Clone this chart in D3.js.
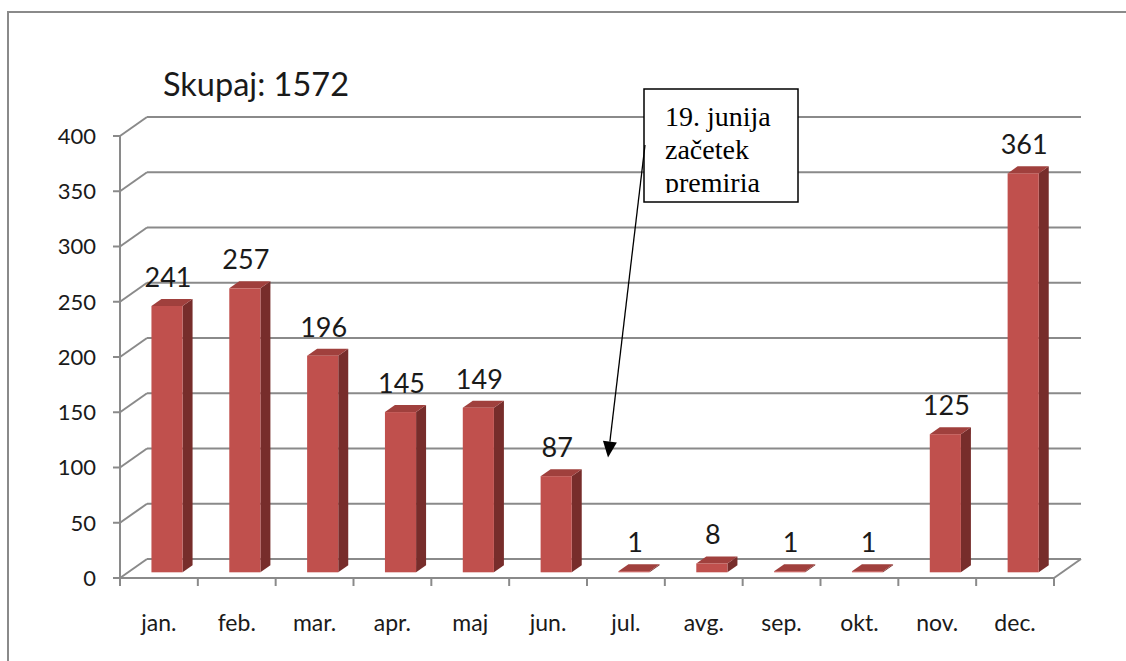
<!DOCTYPE html>
<html>
<head>
<meta charset="utf-8">
<script src="https://cdn.jsdelivr.net/npm/d3@7"></script>
<style>
  html, body { margin: 0; padding: 0; background: #fff; }
  svg { display: block; }
</style>
</head>
<body>
<div id="chart"></div>
<script>
// data
const months = ["jan.", "feb.", "mar.", "apr.", "maj", "jun.", "jul.", "avg.", "sep.", "okt.", "nov.", "dec."];
const counts = [241, 257, 196, 145, 149, 87, 1, 8, 1, 1, 125, 361];
const yTicks = [0, 50, 100, 150, 200, 250, 300, 350, 400];
const title = "Skupaj: 1572";
const noteLines = ["19. junija", "začetek", "premiria"];

const W = 1126, H = 661;
const depthX = 27, depthY = 19;   // 3d offset of the back wall
const barZ0 = 0.3, barZ1 = 0.67;  // bar depth on the floor

const svg = d3.select("#chart").append("svg")
  .attr("width", W)
  .attr("height", H);

// outer frame
svg.append("rect")
  .attr("x", 8).attr("y", 12)
  .attr("width", W + 20).attr("height", H + 20)
  .attr("fill", "none")
  .attr("stroke", "#8a8a8a")
  .attr("stroke-width", 2);

const x = d3.scaleLinear().domain([0, months.length]).range([120, 1054]);
const y = d3.scaleLinear().domain([0, 400]).range([578, 136]);

// project a point with depth z (0 = front, 1 = back wall)
const px = (c, z) => x(c) + z * depthX;
const py = (v, z) => y(v) - z * depthY;

const grid = svg.append("g")
  .attr("stroke", "#8a8a8a")
  .attr("stroke-width", 2)
  .attr("fill", "none");

// back wall gridlines + left wall diagonals
yTicks.forEach(v => {
  grid.append("line")
    .attr("x1", px(0, 1)).attr("y1", py(v, 1))
    .attr("x2", px(months.length, 1)).attr("y2", py(v, 1));
  grid.append("line")
    .attr("x1", px(0, 0)).attr("y1", py(v, 0))
    .attr("x2", px(0, 1)).attr("y2", py(v, 1));
  // tick
  grid.append("line")
    .attr("x1", x(0) - 7).attr("y1", y(v))
    .attr("x2", x(0)).attr("y2", y(v));
});

// floor right edge
grid.append("line")
  .attr("x1", px(months.length, 0)).attr("y1", py(0, 0))
  .attr("x2", px(months.length, 1)).attr("y2", py(0, 1));

// y axis and x axis (front)
grid.append("line")
  .attr("x1", x(0)).attr("y1", y(400))
  .attr("x2", x(0)).attr("y2", y(0));
grid.append("line")
  .attr("x1", x(0)).attr("y1", y(0))
  .attr("x2", x(months.length)).attr("y2", y(0));

// category ticks
d3.range(months.length + 1).forEach(i => {
  grid.append("line")
    .attr("x1", x(i)).attr("y1", y(0))
    .attr("x2", x(i)).attr("y2", y(0) + 8);
});

// bars
const bars = svg.append("g")
  .selectAll("g")
  .data(counts)
  .join("g");

const bl = i => i + 0.3, br = i => i + 0.7;

// side face
bars.append("path")
  .attr("fill", "#772d2b")
  .attr("d", (d, i) => {
    const a = br(i);
    return "M" + px(a, barZ0) + "," + py(0, barZ0) +
      "L" + px(a, barZ1) + "," + py(0, barZ1) +
      "L" + px(a, barZ1) + "," + py(d, barZ1) +
      "L" + px(a, barZ0) + "," + py(d, barZ0) + "Z";
  });

// top face
bars.append("path")
  .attr("fill", "#a0403d")
  .attr("d", (d, i) => {
    const a = bl(i), b = br(i);
    return "M" + px(a, barZ0) + "," + py(d, barZ0) +
      "L" + px(b, barZ0) + "," + py(d, barZ0) +
      "L" + px(b, barZ1) + "," + py(d, barZ1) +
      "L" + px(a, barZ1) + "," + py(d, barZ1) + "Z";
  });

// front face
bars.append("rect")
  .attr("fill", "#c0504d")
  .attr("x", (d, i) => px(bl(i), barZ0))
  .attr("y", d => py(d, barZ0))
  .attr("width", (d, i) => px(br(i), barZ0) - px(bl(i), barZ0))
  .attr("height", d => py(0, barZ0) - py(d, barZ0));

// value labels
bars.append("text")
  .attr("x", (d, i) => px(i + 0.5, barZ0) + 1)
  .attr("y", d => py(d, barZ1) - 12)
  .attr("text-anchor", "middle")
  .attr("font-family", "Lato, 'Open Sans', sans-serif")
  .attr("font-size", 27)
  .attr("fill", "#1a1a1a")
  .text(d => d);

// y axis labels
svg.append("g")
  .selectAll("text")
  .data(yTicks)
  .join("text")
  .attr("x", 96)
  .attr("y", d => y(d))
  .attr("dy", "0.36em")
  .attr("text-anchor", "end")
  .attr("font-family", "Lato, 'Open Sans', sans-serif")
  .attr("font-size", 22)
  .attr("fill", "#1a1a1a")
  .text(d => d);

// category labels
svg.append("g")
  .selectAll("text")
  .data(months)
  .join("text")
  .attr("x", (d, i) => x(i + 0.5))
  .attr("y", 631)
  .attr("text-anchor", "middle")
  .attr("font-family", "Lato, 'Open Sans', sans-serif")
  .attr("font-size", 23)
  .attr("fill", "#1a1a1a")
  .text(d => d);

// title
svg.append("text")
  .attr("x", 163)
  .attr("y", 96)
  .attr("font-family", "Lato, 'Open Sans', sans-serif")
  .attr("font-size", 32.5)
  .attr("fill", "#1a1a1a")
  .text(title);

// annotation box + arrow
const box = { x: 644, y: 89, w: 154, h: 113 };
svg.append("defs").append("clipPath")
  .attr("id", "noteClip")
  .append("rect")
  .attr("x", box.x).attr("y", box.y)
  .attr("width", box.w).attr("height", box.h - 9);

svg.append("rect")
  .attr("x", box.x).attr("y", box.y)
  .attr("width", box.w).attr("height", box.h)
  .attr("fill", "#fff")
  .attr("stroke", "#000")
  .attr("stroke-width", 1.5);

svg.append("g")
  .attr("clip-path", "url(#noteClip)")
  .selectAll("text")
  .data(noteLines)
  .join("text")
  .attr("x", box.x + 21)
  .attr("y", (d, i) => box.y + 37 + i * 33)
  .attr("font-family", "'Liberation Serif', 'Times New Roman', serif")
  .attr("font-size", 28)
  .attr("fill", "#000")
  .text(d => d);

// arrow pointing at july
const tipX = x(6.27), tipY = y(109);
const sx = box.x + 1, sy = 145;
const ang = Math.atan2(tipY - sy, tipX - sx);
const headL = 16, headW = 7;
const bx = tipX - headL * Math.cos(ang), by = tipY - headL * Math.sin(ang);
svg.append("line")
  .attr("x1", sx).attr("y1", sy)
  .attr("x2", bx).attr("y2", by)
  .attr("stroke", "#000")
  .attr("stroke-width", 1.3);
svg.append("path")
  .attr("fill", "#000")
  .attr("d", "M" + tipX + "," + tipY +
    "L" + (bx + headW * Math.sin(ang)) + "," + (by - headW * Math.cos(ang)) +
    "L" + (bx - headW * Math.sin(ang)) + "," + (by + headW * Math.cos(ang)) + "Z");
</script>
</body>
</html>
